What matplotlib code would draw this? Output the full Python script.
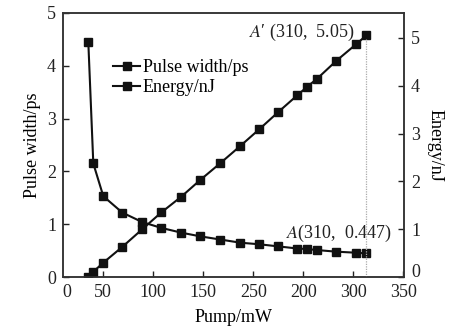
import matplotlib
matplotlib.use('Agg')
import matplotlib.pyplot as plt
import matplotlib.transforms as mtransforms

# ===== data =====
pump = [35, 40, 50, 69, 89, 108, 128, 147, 167, 187, 206, 225, 244, 254, 264, 283, 303, 313]
pulse_width = [4.45, 2.15, 1.53, 1.22, 1.04, 0.93, 0.84, 0.77, 0.71, 0.65, 0.62, 0.58,
               0.54, 0.53, 0.51, 0.48, 0.46, 0.447]
energy = [0.0, 0.11, 0.30, 0.63, 1.00, 1.35, 1.68, 2.03, 2.38, 2.74, 3.09, 3.45,
          3.80, 3.98, 4.15, 4.52, 4.87, 5.05]

x_ticks = [13.5, 50, 100, 150, 200, 250, 300, 350]
x_tick_labels = ['0', '50', '100', '150', '250', '200', '300', '350']  # as printed in the figure
y_ticks = [0, 1, 2, 3, 4, 5]

plt.rcParams['font.family'] = ['Liberation Serif', 'DejaVu Serif']
plt.rcParams['mathtext.fontset'] = 'stix'
fs = 13

fig = plt.figure(figsize=(4.52, 3.29), dpi=100)
ax = fig.add_axes([0.1394, 0.158, 0.7544, 0.8025])
ax2 = ax.twinx()

col = '#111111'
l1, = ax.plot(pump, pulse_width, '-s', color=col, lw=1.5, ms=5.3, label='Pulse width/ps')
l2, = ax2.plot(pump, energy, '-s', color=col, lw=1.5, ms=5.3, label='Energy/nJ')
ax2.vlines(pump[-1], 0, energy[-1] - 0.08, colors='#aaaaaa', linestyles=(0, (1, 1)), lw=0.9)

ax.set_xlim(9.7, 350.7)
ax.set_ylim(0, 5)
ax2.set_ylim(0, 5.52)

ax.set_xticks(x_ticks)
ax.set_xticklabels(x_tick_labels)
ax.set_yticks(y_ticks)
ax2.set_yticks(y_ticks)
ax.xaxis.get_major_ticks()[0].tick1line.set_visible(False)

for a in (ax, ax2):
    a.tick_params(direction='in', length=4, width=1, labelsize=fs, colors='#222222', pad=5)
    for s in a.spines.values():
        s.set_linewidth(1.1)
        s.set_color('#333333')

# lift the right-hand "0" a little so it clears the "350"
lbl0 = ax2.yaxis.get_major_ticks()[0].label2
lbl0.set_transform(lbl0.get_transform() + mtransforms.ScaledTranslation(0, 5 / 72, fig.dpi_scale_trans))

ax.set_xlabel('Pump/mW', fontsize=fs, labelpad=6)
ax.set_ylabel('Pulse width/ps', fontsize=fs, labelpad=4)
ax2.set_ylabel('Energy/nJ', fontsize=fs, rotation=270, labelpad=17)

ax.legend(handles=[l1, l2], loc='upper left', bbox_to_anchor=(0.147, 0.825), frameon=False,
          fontsize=fs, handlelength=1.5, handletextpad=0.15, labelspacing=0.15,
          borderpad=0, borderaxespad=0)

ax2.text(pump[-1] - 12, energy[-1] + 0.07, r"$A$′ (310,  5.05)", fontsize=fs,
         ha='right', va='center', color='#222222')
ax.text(pump[-1] + 26, pulse_width[-1] + 0.37, r"$A$(310,  0.447)", fontsize=fs,
        ha='right', va='center', color='#222222')

fig.savefig('out.png', dpi=100)
